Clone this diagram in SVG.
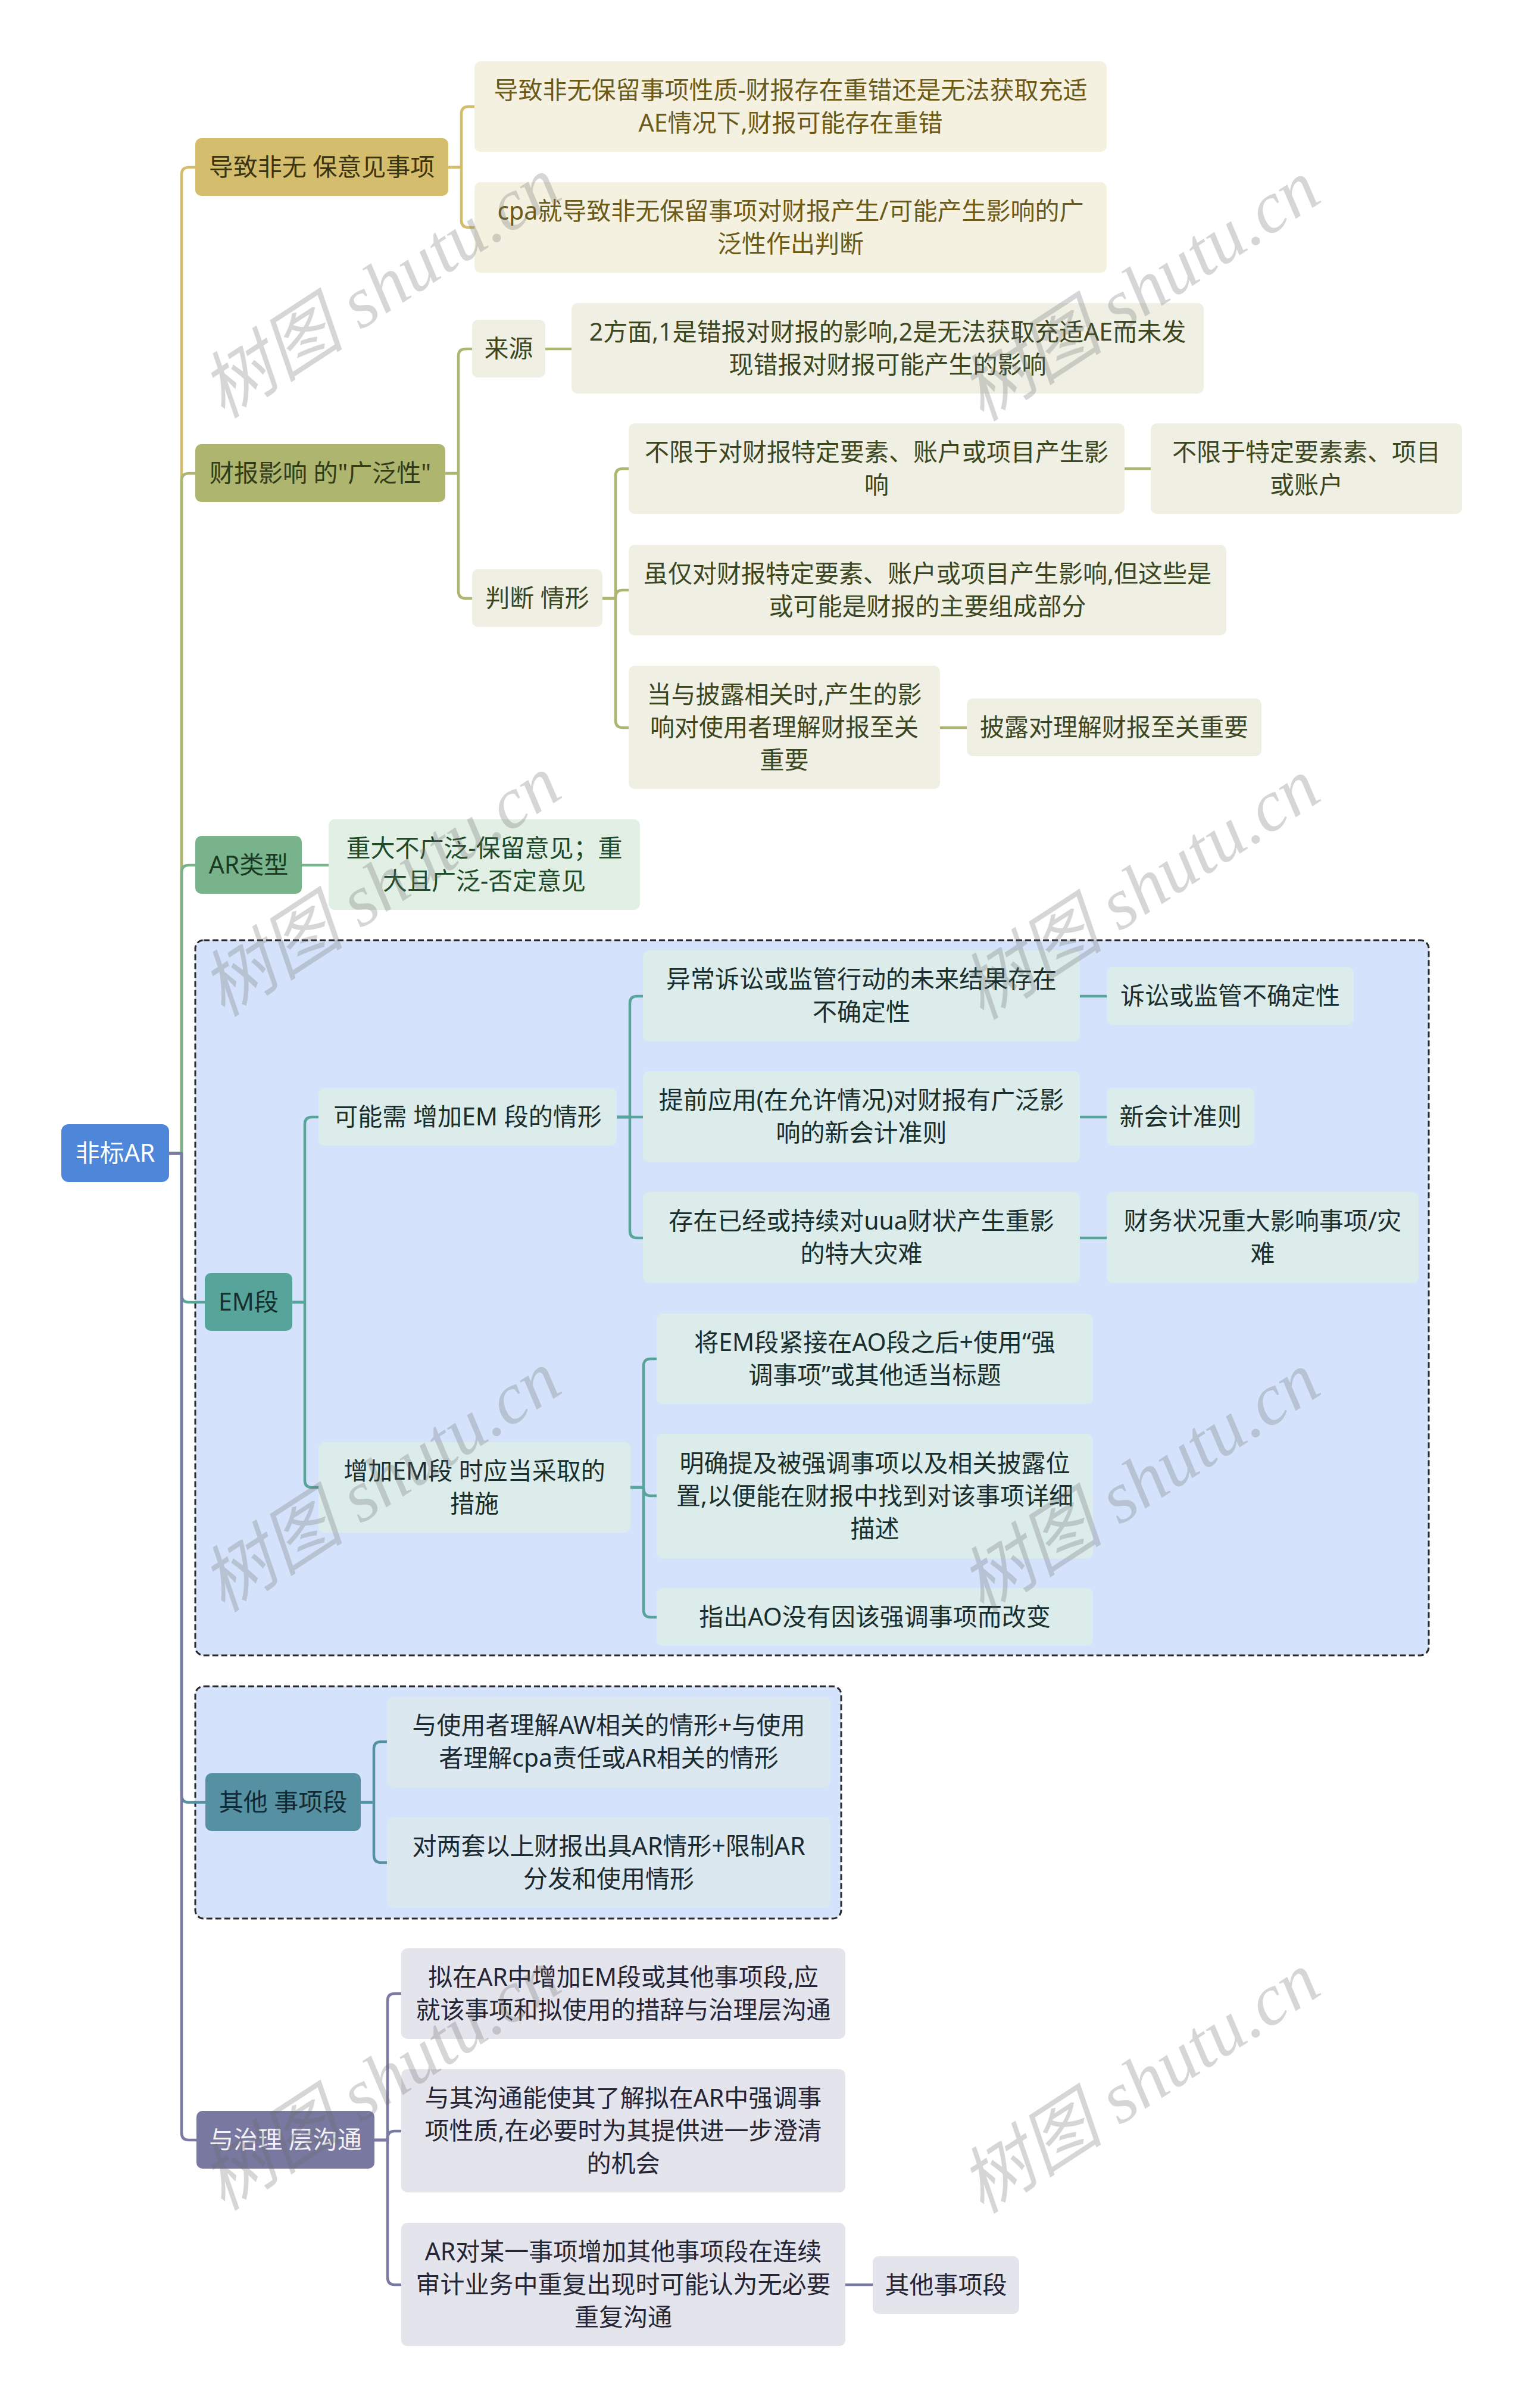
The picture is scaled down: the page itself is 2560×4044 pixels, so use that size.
<svg xmlns="http://www.w3.org/2000/svg" width="2560" height="4044" viewBox="0 0 2560 4044">
<style>
text{font-family:'Noto Sans','Noto Sans CJK SC',sans-serif;font-size:41px;text-anchor:middle}
.c path{fill:none;stroke-width:4.5;stroke-linecap:round;stroke-linejoin:round}
.g1{stroke:#d4bd6a}.g2{stroke:#adb56f}.g3{stroke:#79b38b}.g4{stroke:#56a49a}.g5{stroke:#5491a3}.g6{stroke:#7a7aa2}
.box{fill:#d4e3fb;stroke:#2a2a2a;stroke-width:3;stroke-dasharray:10 5}
.n1 rect{fill:#d4bd6c}.n1 text{fill:#3b3412}
.s1 rect{fill:#f4f1e1}.s1 text{fill:#6b5a18}
.n2 rect{fill:#adb56f}.n2 text{fill:#333c18}
.s2 rect{fill:#eff0e3}.s2 text{fill:#3c4620}
.n3 rect{fill:#79b38b}.n3 text{fill:#1b3a24}
.s3 rect{fill:#e1efe4}.s3 text{fill:#1e4a2a}
.n4 rect{fill:#56a49a}.n4 text{fill:#17302d}
.s4 rect{fill:#dcecea}.s4 text{fill:#1a2f2d}
.n5 rect{fill:#5591a3}.n5 text{fill:#142a33}
.s5 rect{fill:#dce8f0}.s5 text{fill:#1a2a30}
.n6 rect{fill:#7878a0}.n6 text{fill:#f2f2f7}
.s6 rect{fill:#e4e4ec}.s6 text{fill:#252535}
.root rect{fill:#4e86da}.root text{fill:#ffffff}
.wm{font-family:'Liberation Serif','Noto Sans CJK SC',serif;font-style:italic;font-size:122px;fill:#6a6a6a;fill-opacity:0.28}
</style>
<rect width="2560" height="4044" fill="#ffffff"/>
<rect class="box" x="328" y="1579" width="2072" height="1201" rx="14"/>
<rect class="box" x="328" y="2832" width="1085" height="390" rx="14"/>
<g class="c" id="connectors">
<path class="g1" d="M284 1937H305V293Q305 281 317 281H328"/>
<path class="g2" d="M284 1937H305V807Q305 795 317 795H328"/>
<path class="g3" d="M284 1937H305V1465Q305 1453 317 1453H328"/>
<path class="g4" d="M284 1937H305V2175Q305 2187 317 2187H344"/>
<path class="g5" d="M284 1937H305V3015Q305 3027 317 3027H345"/>
<path class="g6" d="M284 1937H305V3582Q305 3594 317 3594H330"/>
<path class="g1" d="M753 281H775V191Q775 179 787 179H797"/>
<path class="g1" d="M753 281H775V370Q775 382 787 382H797"/>
<path class="g2" d="M748 795H770V598Q770 586 782 586H793"/>
<path class="g2" d="M748 795H770V993Q770 1005 782 1005H793"/>
<path class="g2" d="M916 586H960"/>
<path class="g2" d="M1012 1005H1034V799Q1034 787 1046 787H1056"/>
<path class="g2" d="M1012 1005H1034V1003Q1034 991 1046 991H1056"/>
<path class="g2" d="M1012 1005H1034V1210Q1034 1222 1046 1222H1056"/>
<path class="g2" d="M1889 787H1933"/>
<path class="g2" d="M1579 1222H1624"/>
<path class="g3" d="M507 1453H552"/>
<path class="g4" d="M491 2187H512V1888Q512 1876 524 1876H535"/>
<path class="g4" d="M491 2187H512V2486Q512 2498 524 2498H535"/>
<path class="g4" d="M1036 1876H1058V1685Q1058 1673 1070 1673H1080"/>
<path class="g4" d="M1036 1876H1080"/>
<path class="g4" d="M1036 1876H1058V2067Q1058 2079 1070 2079H1080"/>
<path class="g4" d="M1814 1673H1859"/>
<path class="g4" d="M1814 1876H1859"/>
<path class="g4" d="M1814 2079H1859"/>
<path class="g4" d="M1059 2498H1081V2294Q1081 2282 1093 2282H1103"/>
<path class="g4" d="M1059 2498H1081V2500Q1081 2512 1093 2512H1103"/>
<path class="g4" d="M1059 2498H1081V2704Q1081 2716 1093 2716H1103"/>
<path class="g5" d="M606 3027H628V2937Q628 2925 640 2925H650"/>
<path class="g5" d="M606 3027H628V3116Q628 3128 640 3128H650"/>
<path class="g6" d="M629 3594H651V3360Q651 3348 663 3348H674"/>
<path class="g6" d="M629 3594H651V3591Q651 3579 663 3579H674"/>
<path class="g6" d="M629 3594H651V3825Q651 3837 663 3837H674"/>
<path class="g6" d="M1420 3837H1466"/>
</g>
<g id="root" class="root"><rect x="103" y="1888" width="181" height="97" rx="12"/><text x="193.5" y="1951">非标AR</text></g>
<g id="b1" class="n1"><rect x="328" y="232" width="425" height="97" rx="10"/><text x="540.5" y="295">导致非无 保意见事项</text></g>
<g id="b1a" class="s1"><rect x="797" y="103" width="1062" height="152" rx="10"/><text x="1328" y="165.5">导致非无保留事项性质-财报存在重错还是无法获取充适<tspan x="1328" y="220.5">AE情况下,财报可能存在重错</tspan></text></g>
<g id="b1b" class="s1"><rect x="797" y="306" width="1062" height="152" rx="10"/><text x="1328" y="368.5">cpa就导致非无保留事项对财报产生/可能产生影响的广<tspan x="1328" y="423.5">泛性作出判断</tspan></text></g>
<g id="b2" class="n2"><rect x="328" y="746" width="420" height="97" rx="10"/><text x="538" y="809">财报影响 的"广泛性"</text></g>
<g id="b2a" class="s2"><rect x="793" y="537" width="123" height="97" rx="10"/><text x="854.5" y="600">来源</text></g>
<g id="b2a1" class="s2"><rect x="960" y="509" width="1062" height="152" rx="10"/><text x="1491" y="571.5">2方面,1是错报对财报的影响,2是无法获取充适AE而未发<tspan x="1491" y="626.5">现错报对财报可能产生的影响</tspan></text></g>
<g id="b2b" class="s2"><rect x="793" y="956" width="219" height="97" rx="10"/><text x="902.5" y="1019">判断 情形</text></g>
<g id="b2b1" class="s2"><rect x="1056" y="711" width="833" height="152" rx="10"/><text x="1472.5" y="773.5">不限于对财报特定要素、账户或项目产生影<tspan x="1472.5" y="828.5">响</tspan></text></g>
<g id="b2b1a" class="s2"><rect x="1933" y="711" width="523" height="152" rx="10"/><text x="2194.5" y="773.5">不限于特定要素素、项目<tspan x="2194.5" y="828.5">或账户</tspan></text></g>
<g id="b2b2" class="s2"><rect x="1056" y="915" width="1004" height="152" rx="10"/><text x="1558" y="977.5">虽仅对财报特定要素、账户或项目产生影响,但这些是<tspan x="1558" y="1032.5">或可能是财报的主要组成部分</tspan></text></g>
<g id="b2b3" class="s2"><rect x="1056" y="1118" width="523" height="207" rx="10"/><text x="1317.5" y="1180.5">当与披露相关时,产生的影<tspan x="1317.5" y="1235.5">响对使用者理解财报至关</tspan><tspan x="1317.5" y="1290.5">重要</tspan></text></g>
<g id="b2b3a" class="s2"><rect x="1624" y="1173" width="495" height="97" rx="10"/><text x="1871.5" y="1236">披露对理解财报至关重要</text></g>
<g id="b3" class="n3"><rect x="328" y="1404" width="179" height="97" rx="10"/><text x="417.5" y="1467">AR类型</text></g>
<g id="b3a" class="s3"><rect x="552" y="1376" width="523" height="152" rx="10"/><text x="813.5" y="1438.5">重大不广泛-保留意见；重<tspan x="813.5" y="1493.5">大且广泛-否定意见</tspan></text></g>
<g id="b4" class="n4"><rect x="344" y="2138" width="147" height="97" rx="10"/><text x="417.5" y="2201">EM段</text></g>
<g id="b4a" class="s4"><rect x="535" y="1827" width="501" height="97" rx="10"/><text x="785.5" y="1890">可能需 增加EM 段的情形</text></g>
<g id="b4a1" class="s4"><rect x="1080" y="1596" width="734" height="153" rx="10"/><text x="1447" y="1659">异常诉讼或监管行动的未来结果存在<tspan x="1447" y="1714">不确定性</tspan></text></g>
<g id="b4a1a" class="s4"><rect x="1859" y="1624" width="415" height="97" rx="10"/><text x="2066.5" y="1687">诉讼或监管不确定性</text></g>
<g id="b4a2" class="s4"><rect x="1080" y="1799" width="734" height="153" rx="10"/><text x="1447" y="1862">提前应用(在允许情况)对财报有广泛影<tspan x="1447" y="1917">响的新会计准则</tspan></text></g>
<g id="b4a2a" class="s4"><rect x="1859" y="1827" width="248" height="97" rx="10"/><text x="1983" y="1890">新会计准则</text></g>
<g id="b4a3" class="s4"><rect x="1080" y="2002" width="734" height="153" rx="10"/><text x="1447" y="2065">存在已经或持续对uua财状产生重影<tspan x="1447" y="2120">的特大灾难</tspan></text></g>
<g id="b4a3a" class="s4"><rect x="1859" y="2002" width="524" height="153" rx="10"/><text x="2121" y="2065">财务状况重大影响事项/灾<tspan x="2121" y="2120">难</tspan></text></g>
<g id="b4b" class="s4"><rect x="535" y="2422" width="524" height="152" rx="10"/><text x="797" y="2484.5">增加EM段 时应当采取的<tspan x="797" y="2539.5">措施</tspan></text></g>
<g id="b4b1" class="s4"><rect x="1103" y="2206" width="733" height="152" rx="10"/><text x="1469.5" y="2268.5">将EM段紧接在AO段之后+使用“强<tspan x="1469.5" y="2323.5">调事项”或其他适当标题</tspan></text></g>
<g id="b4b2" class="s4"><rect x="1103" y="2408" width="733" height="209" rx="10"/><text x="1469.5" y="2471.5">明确提及被强调事项以及相关披露位<tspan x="1469.5" y="2526.5">置,以便能在财报中找到对该事项详细</tspan><tspan x="1469.5" y="2581.5">描述</tspan></text></g>
<g id="b4b3" class="s4"><rect x="1103" y="2667" width="733" height="97" rx="10"/><text x="1469.5" y="2730">指出AO没有因该强调事项而改变</text></g>
<g id="b5" class="n5"><rect x="345" y="2978" width="261" height="97" rx="10"/><text x="475.5" y="3041">其他 事项段</text></g>
<g id="b5a" class="s5"><rect x="650" y="2849" width="745" height="152" rx="10"/><text x="1022.5" y="2911.5">与使用者理解AW相关的情形+与使用<tspan x="1022.5" y="2966.5">者理解cpa责任或AR相关的情形</tspan></text></g>
<g id="b5b" class="s5"><rect x="650" y="3052" width="745" height="152" rx="10"/><text x="1022.5" y="3114.5">对两套以上财报出具AR情形+限制AR<tspan x="1022.5" y="3169.5">分发和使用情形</tspan></text></g>
<g id="b6" class="n6"><rect x="330" y="3545" width="299" height="97" rx="10"/><text x="479.5" y="3608">与治理 层沟通</text></g>
<g id="b6a" class="s6"><rect x="674" y="3272" width="746" height="152" rx="10"/><text x="1047" y="3334.5">拟在AR中增加EM段或其他事项段,应<tspan x="1047" y="3389.5">就该事项和拟使用的措辞与治理层沟通</tspan></text></g>
<g id="b6b" class="s6"><rect x="674" y="3475" width="746" height="207" rx="10"/><text x="1047" y="3537.5">与其沟通能使其了解拟在AR中强调事<tspan x="1047" y="3592.5">项性质,在必要时为其提供进一步澄清</tspan><tspan x="1047" y="3647.5">的机会</tspan></text></g>
<g id="b6c" class="s6"><rect x="674" y="3733" width="746" height="207" rx="10"/><text x="1047" y="3795.5">AR对某一事项增加其他事项段在连续<tspan x="1047" y="3850.5">审计业务中重复出现时可能认为无必要</tspan><tspan x="1047" y="3905.5">重复沟通</tspan></text></g>
<g id="b6c1" class="s6"><rect x="1466" y="3789" width="246" height="97" rx="10"/><text x="1589" y="3852">其他事项段</text></g>
<g id="watermarks">
<text class="wm" transform="translate(662,518) rotate(-33)">树图 shutu.cn</text>
<text class="wm" transform="translate(1937,523) rotate(-33)">树图 shutu.cn</text>
<text class="wm" transform="translate(662,1523) rotate(-33)">树图 shutu.cn</text>
<text class="wm" transform="translate(1937,1528) rotate(-33)">树图 shutu.cn</text>
<text class="wm" transform="translate(662,2523) rotate(-33)">树图 shutu.cn</text>
<text class="wm" transform="translate(1937,2525) rotate(-33)">树图 shutu.cn</text>
<text class="wm" transform="translate(662,3528) rotate(-33)">树图 shutu.cn</text>
<text class="wm" transform="translate(1937,3533) rotate(-33)">树图 shutu.cn</text>
</g>
</svg>
